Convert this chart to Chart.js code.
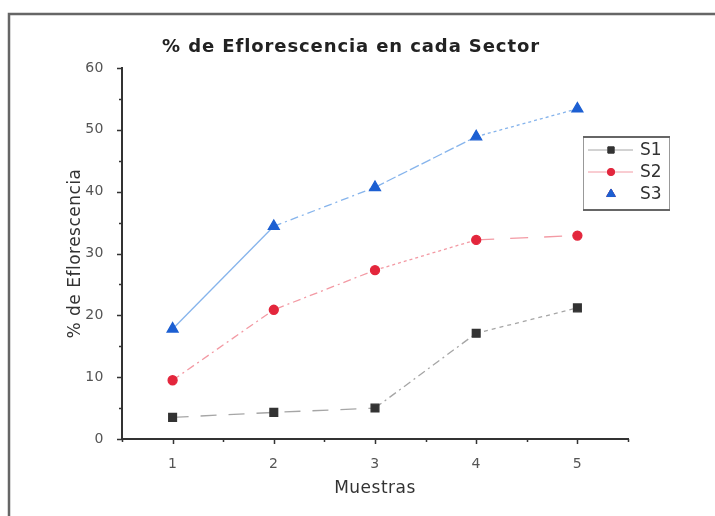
<!DOCTYPE html>
<html>
<head>
<meta charset="utf-8">
<style>
  html, body { margin: 0; padding: 0; background: #fff; }
  #wrap { width: 715px; height: 516px; position: relative; }
</style>
<script src="https://cdn.jsdelivr.net/npm/chart.js@4/dist/chart.umd.min.js"></script>
</head>
<body>
<div id="wrap"><canvas id="c" width="715" height="516"></canvas></div>
<script>
// Sample numbers along the x axis
const muestras = [1, 2, 3, 4, 5];
// % de eflorescencia per sector
const s1 = [3.5, 4.3, 5.0, 17.1, 21.2];
const s2 = [9.5, 20.9, 27.3, 32.2, 32.9];
const s3 = [17.8, 34.4, 40.7, 48.9, 53.4];
const seriesNames = ['S1', 'S2', 'S3'];
const yTicks = [0, 10, 20, 30, 40, 50, 60];

const chartTitle = '% de Eflorescencia en cada Sector';
const xTitle = 'Muestras';
const yTitle = '% de Eflorescencia';

// dash pattern per line segment (one entry per gap between samples)
const dashS1 = [[16, 12], [16, 12], [8, 4, 2, 4], [4, 4]];
const dashS2 = [[8, 4, 2, 4], [8, 4, 2, 4], [3, 3], [18, 16]];
const dashS3 = [[], [8, 4, 2, 4], [10, 3], [3, 3]];

Chart.defaults.font.family = "'DejaVu Sans', 'Liberation Sans', sans-serif";

function pts(arr) { return muestras.map((m, i) => ({ x: m, y: arr[i] })); }

function makeSet(label, arr, line, mark, style, radius, dashes) {
  return {
    label: label,
    data: pts(arr),
    borderColor: line,
    backgroundColor: mark,
    pointBackgroundColor: mark,
    pointBorderColor: mark,
    pointStyle: style,
    pointRadius: radius,
    pointHoverRadius: radius,
    borderWidth: 1.3,
    tension: 0,
    segment: { borderDash: ctx => dashes[ctx.p0DataIndex] }
  };
}

const spacing = {
  id: 'spacing',
  beforeLayout(chart) { chart.ctx.letterSpacing = '0.5px'; },
  beforeDraw(chart) {
    const ctx = chart.ctx;
    ctx.letterSpacing = '0.5px';
    ctx.save();
    ctx.fillStyle = '#fff';
    ctx.fillRect(0, 0, chart.width, chart.height);
    // outer frame (top and left edges)
    ctx.strokeStyle = '#666';
    ctx.lineWidth = 2.5;
    ctx.beginPath();
    ctx.moveTo(9, chart.height);
    ctx.lineTo(9, 14);
    ctx.lineTo(chart.width, 14);
    ctx.stroke();
    // chart title
    ctx.fillStyle = '#222';
    ctx.font = "bold 18px 'DejaVu Sans', sans-serif";
    ctx.letterSpacing = '0.9px';
    ctx.textAlign = 'center';
    ctx.textBaseline = 'middle';
    ctx.fillText(chartTitle, 351, 47);
    ctx.restore();
  }
};

const tickMarks = {
  id: 'tickMarks',
  afterDraw(chart) {
    const ctx = chart.ctx;
    const xs = chart.scales.x, ys = chart.scales.y;
    const area = chart.chartArea;
    ctx.save();
    ctx.strokeStyle = '#333';
    ctx.lineWidth = 1.5;
    ctx.beginPath();
    for (let v = ys.min; v <= ys.max + 1e-9; v += 5) {
      const py = Math.round(ys.getPixelForValue(v)) + 0.5;
      const len = v % 10 === 0 ? 5 : 3;
      ctx.moveTo(area.left, py);
      ctx.lineTo(area.left - len, py);
    }
    for (let v = xs.min; v <= xs.max + 1e-9; v += 0.5) {
      const px = Math.round(xs.getPixelForValue(v)) + 0.5;
      const len = Number.isInteger(v) ? 5 : 3;
      ctx.moveTo(px, area.bottom);
      ctx.lineTo(px, area.bottom + len);
    }
    ctx.stroke();
    ctx.restore();
  }
};

const boxLegend = {
  id: 'boxLegend',
  afterDatasetsDraw(chart) {
    const ctx = chart.ctx;
    const L = 583, T = 136, R = 669, B = 210;
    ctx.save();
    ctx.fillStyle = '#fff';
    ctx.fillRect(L, T, R - L, B - T);
    ctx.strokeStyle = '#999';
    ctx.lineWidth = 1;
    ctx.strokeRect(L + 0.5, T + 0.5, R - L, B - T);
    ctx.strokeStyle = '#666';
    ctx.lineWidth = 2;
    ctx.beginPath();
    ctx.moveTo(L, T + 1); ctx.lineTo(R + 1, T + 1);
    ctx.moveTo(L, B); ctx.lineTo(R + 1, B);
    ctx.stroke();
    chart.data.datasets.forEach((ds, i) => {
      const y = 150 + i * 22;
      if (i < 2) {
        ctx.strokeStyle = ds.borderColor;
        ctx.lineWidth = 1;
        ctx.setLineDash([]);
        ctx.beginPath();
        ctx.moveTo(588, y); ctx.lineTo(633, y);
        ctx.stroke();
      }
      Chart.helpers.drawPoint(ctx, {
        pointStyle: ds.pointStyle,
        radius: ds.pointRadius * 0.8,
        borderWidth: 1,
        rotation: 0
      }, 611, y);
      ctx.fillStyle = ds.pointBackgroundColor;
      ctx.strokeStyle = ds.pointBorderColor;
      ctx.fill();
      ctx.stroke();
      ctx.fillStyle = '#333';
      ctx.font = "17px 'DejaVu Sans', sans-serif";
      ctx.letterSpacing = '0px';
      ctx.textAlign = 'left';
      ctx.textBaseline = 'middle';
      ctx.fillText(seriesNames[i], 640, y + 1);
    });
    ctx.restore();
  }
};

new Chart(document.getElementById('c'), {
  type: 'line',
  data: {
    datasets: [
      makeSet(seriesNames[0], s1, '#a6a6a6', '#333333', 'rect', 5.5, dashS1),
      makeSet(seriesNames[1], s2, '#f39aa4', '#e3263c', 'circle', 4.5, dashS2),
      makeSet(seriesNames[2], s3, '#86b4ec', '#1c5fd2', 'triangle', 6.3, dashS3)
    ]
  },
  options: {
    responsive: false,
    animation: false,
    events: [],
    layout: { padding: { left: 0, top: 68, right: 87, bottom: 0 } },
    plugins: { legend: { display: false }, title: { display: false }, tooltip: { enabled: false } },
    scales: {
      x: {
        type: 'linear',
        min: 0.5,
        max: 5.5,
        afterBuildTicks: s => { s.ticks = muestras.map(v => ({ value: v })); },
        afterFit: s => { s.height = 77; },
        grid: { display: false },
        border: { display: true, color: '#333', width: 2 },
        ticks: { color: '#555', padding: 9, font: { size: 14 }, maxRotation: 0 },
        title: { display: true, text: xTitle, color: '#333', font: { size: 17 }, padding: { top: 0, bottom: 17 } }
      },
      y: {
        min: 0,
        max: 60,
        afterBuildTicks: s => { s.ticks = yTicks.map(v => ({ value: v })); },
        afterFit: s => { s.width = 122; },
        grid: { display: false },
        border: { display: true, color: '#333', width: 2 },
        ticks: { color: '#555', padding: 10, font: { size: 14 } },
        title: { display: true, text: yTitle, color: '#333', font: { size: 17 }, padding: { top: 65, bottom: 0 } }
      }
    }
  },
  plugins: [spacing, tickMarks, boxLegend]
});
</script>
</body>
</html>
